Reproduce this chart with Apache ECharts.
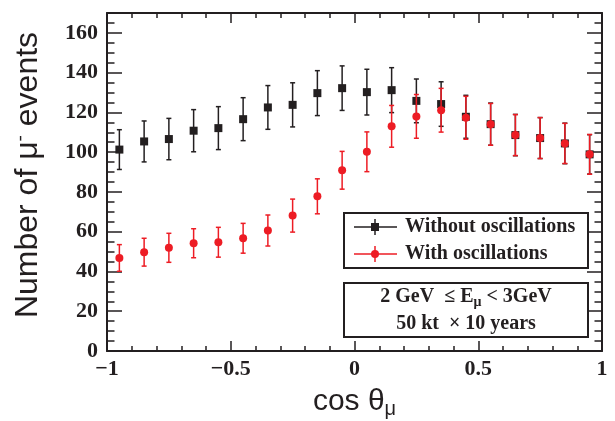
<!DOCTYPE html>
<html>
<head>
<meta charset="utf-8">
<script src="https://cdn.jsdelivr.net/npm/echarts@6/dist/echarts.min.js"></script>
<style>html,body{margin:0;padding:0;background:#fff}#c{width:615px;height:421px}</style>
</head>
<body>
<div id="c"></div>
<script>
// ---- data ----
const cosTheta = [-0.95,-0.85,-0.75,-0.65,-0.55,-0.45,-0.35,-0.25,-0.15,-0.05,0.05,0.15,0.25,0.35,0.45,0.55,0.65,0.75,0.85,0.95];
const withoutOsc = [101.3,105.4,106.6,110.8,112.1,116.6,122.5,123.8,129.7,132.2,130.2,131.2,125.8,124.2,117.8,114.1,108.6,107.1,104.4,98.9];
const withoutOscErr = [10.0,10.3,10.4,10.6,10.8,10.8,11.0,11.1,11.3,11.2,11.5,11.3,11.0,11.2,10.8,10.6,10.4,10.3,10.2,9.9];
const withOsc = [46.8,49.7,51.9,54.2,54.7,56.7,60.6,68.1,77.8,90.9,100.2,113.0,118.0,121.1,117.3,114.0,108.6,107.1,104.4,98.9];
const withOscErr = [6.7,7.0,7.3,7.3,7.5,7.5,7.8,8.3,8.8,9.5,10.0,10.5,11.0,11.0,10.8,10.5,10.3,10.3,10.1,10.0];
const xTicks = [-1,-0.5,0,0.5,1];
const yTicks = [0,20,40,60,80,100,120,140,160];
const seriesNames = ['Without oscillations','With oscillations'];

const INK = '#231f20';
const RED = '#ed1c24';
const serif = '"Liberation Serif","Times New Roman",serif';
const sans = '"Liberation Sans",Arial,sans-serif';

function errBarRenderer(color){
  return function(params, api){
    const x = api.value(0), y = api.value(1), e = api.value(2);
    const top = api.coord([x, y + e]);
    const bot = api.coord([x, y - e]);
    const cap = 2.5;
    const st = {stroke: color, lineWidth: 1.5};
    return {type:'group', children:[
      {type:'line', shape:{x1:top[0],y1:top[1],x2:bot[0],y2:bot[1]}, style:st},
      {type:'line', shape:{x1:top[0]-cap,y1:top[1],x2:top[0]+cap,y2:top[1]}, style:st},
      {type:'line', shape:{x1:bot[0]-cap,y1:bot[1],x2:bot[0]+cap,y2:bot[1]}, style:st}
    ]};
  };
}

const xFmt = v => (v < 0 ? '\u2212' + Math.abs(v) : String(v));
const yMax = 170;

function xAxisDef(pos, labels){
  return {
    type:'value', min:xTicks[0], max:xTicks[xTicks.length-1], interval:0.5, position:pos,
    axisLine:{show:true, onZero:false, lineStyle:{color:INK, width:2}},
    axisTick:{show:true, inside:true, length:10, lineStyle:{color:INK, width:1.5}},
    minorTick:{show:true, splitNumber:5, length:5, lineStyle:{color:INK, width:1.5}},
    splitLine:{show:false}, minorSplitLine:{show:false},
    axisLabel:{show:labels, fontFamily:serif, fontWeight:'bold', fontSize:22, color:INK, margin:7, formatter:xFmt}
  };
}
function yAxisDef(pos, interval, tickLen, labels, line){
  return {
    type:'value', min:yTicks[0], max:yMax, interval:interval, position:pos,
    axisLine:{show:line, onZero:false, lineStyle:{color:INK, width:2}},
    axisTick:{show:true, inside:true, length:tickLen, lineStyle:{color:INK, width:1.5}},
    splitLine:{show:false},
    axisLabel:{show:labels, showMaxLabel:false, fontFamily:serif, fontWeight:'bold', fontSize:22, color:INK, margin:9}
  };
}

const xMain = xAxisDef('bottom', true);
xMain.name = 'cos \u03b8{sub|\u03bc}';
xMain.nameLocation = 'middle';
xMain.nameGap = 34;
xMain.nameTextStyle = {fontFamily:sans, fontSize:30, color:INK, lineHeight:34,
  rich:{sub:{fontFamily:sans, fontSize:20, color:INK, lineHeight:34, verticalAlign:'bottom', padding:[8,0,0,0]}}};

const yMain = yAxisDef('left', 20, 15, true, true);
yMain.name = 'Number of \u03bc{sup|-} events';
yMain.nameLocation = 'middle';
yMain.nameRotate = 90;
yMain.nameGap = 62;
yMain.nameTextStyle = {fontFamily:sans, fontSize:32, color:INK, padding:[0,0,0,14],
  rich:{sup:{fontFamily:sans, fontSize:19, color:INK, verticalAlign:'top', padding:[0,0,15,0]}}};

const chart = echarts.init(document.getElementById('c'), null, {renderer:'canvas'});
chart.setOption({
  animation:false,
  backgroundColor:'#fff',
  grid:{left:107, top:13, right:13, bottom:70, containLabel:false, outerBoundsMode:'none'},
  xAxis:[xMain, xAxisDef('top', false)],
  yAxis:[yMain, yAxisDef('left', 5, 7.5, false, false), yAxisDef('right', 20, 15, false, true), yAxisDef('right', 5, 7.5, false, false)],
  series:[
    {type:'custom', name:seriesNames[0]+' err', z:2, renderItem:errBarRenderer(INK),
     data:cosTheta.map((x,i)=>[x, withoutOsc[i], withoutOscErr[i]]), encode:{x:0,y:1}},
    {type:'scatter', name:seriesNames[0], z:3, symbol:'rect', symbolSize:8, itemStyle:{color:INK, opacity:1},
     data:cosTheta.map((x,i)=>[x, withoutOsc[i]])},
    {type:'custom', name:seriesNames[1]+' err', z:4, renderItem:errBarRenderer(RED),
     data:cosTheta.map((x,i)=>[x, withOsc[i], withOscErr[i]]), encode:{x:0,y:1}},
    {type:'scatter', name:seriesNames[1], z:5, symbol:'circle', symbolSize:8, itemStyle:{color:RED, opacity:1},
     data:cosTheta.map((x,i)=>[x, withOsc[i]])}
  ],
  graphic:[
    // legend box
    {type:'rect', z:10, shape:{x:344,y:213,width:244,height:55}, style:{fill:'#fff', stroke:INK, lineWidth:2}},
    {type:'line', z:11, shape:{x1:354,y1:227,x2:397,y2:227}, style:{stroke:INK, lineWidth:1.5}},
    {type:'line', z:11, shape:{x1:375,y1:219,x2:375,y2:235}, style:{stroke:INK, lineWidth:1.5}},
    {type:'rect', z:12, shape:{x:371,y:223,width:8,height:8}, style:{fill:INK}},
    {type:'text', z:11, x:405, y:227, style:{text:seriesNames[0], font:'bold 20px '+serif, fill:INK, verticalAlign:'middle'}},
    {type:'line', z:11, shape:{x1:354,y1:254,x2:397,y2:254}, style:{stroke:RED, lineWidth:1.5}},
    {type:'line', z:11, shape:{x1:375,y1:246,x2:375,y2:262}, style:{stroke:RED, lineWidth:1.5}},
    {type:'circle', z:12, shape:{cx:375,cy:254,r:4}, style:{fill:RED}},
    {type:'text', z:11, x:405, y:254, style:{text:seriesNames[1], font:'bold 20px '+serif, fill:INK, verticalAlign:'middle'}},
    // info box
    {type:'rect', z:10, shape:{x:344,y:283,width:244,height:54}, style:{fill:'#fff', stroke:INK, lineWidth:2}},
    {type:'text', z:11, x:466, y:297, style:{text:'2 GeV  \u2264 E{sub|\u03bc} < 3GeV', font:'bold 20px '+serif, fill:INK, align:'center', verticalAlign:'middle',
      rich:{sub:{font:'bold 14px '+serif, fill:INK, verticalAlign:'bottom', padding:[10,0,0,0]}}}},
    {type:'text', z:11, x:466, y:324, style:{text:'50 kt  \u00d7 10 years', font:'bold 20px '+serif, fill:INK, align:'center', verticalAlign:'middle'}}
  ]
});
</script>
</body>
</html>
